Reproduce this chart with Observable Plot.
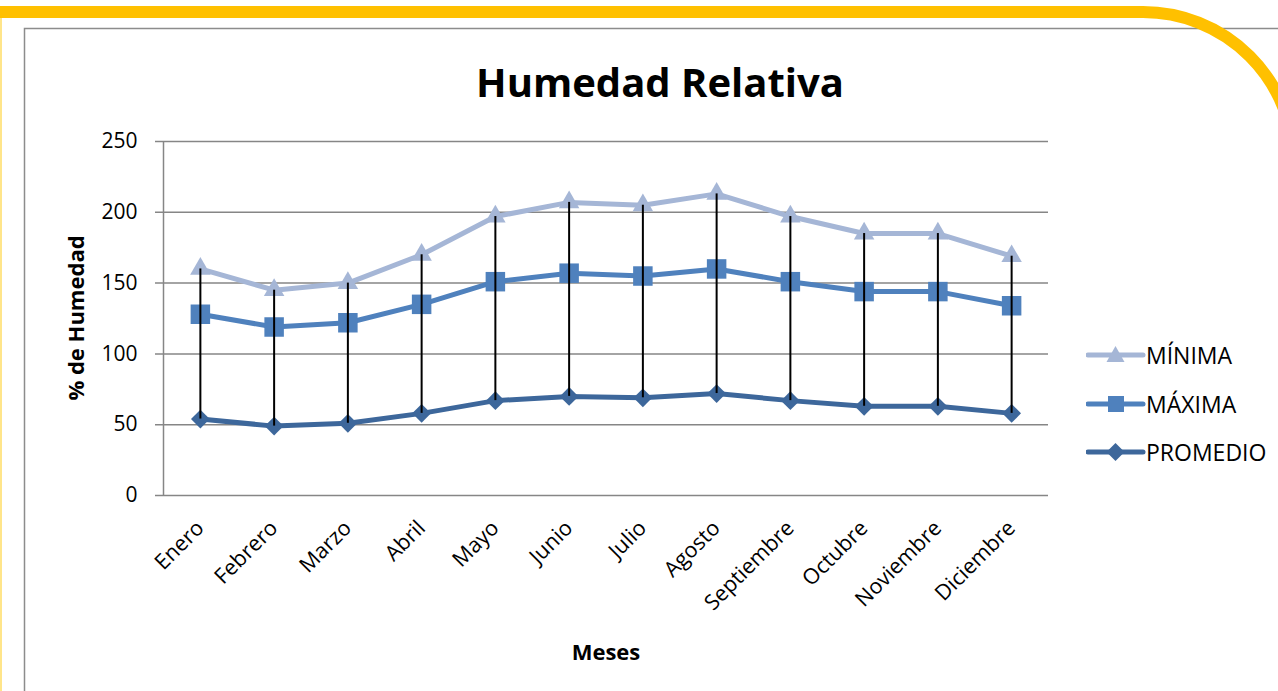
<!DOCTYPE html>
<html>
<head>
<meta charset="utf-8">
<script src="https://cdn.jsdelivr.net/npm/d3@7"></script>
<script src="https://cdn.jsdelivr.net/npm/@observablehq/plot@0.6"></script>
<style>
  html, body { margin: 0; padding: 0; background: #fff; overflow: hidden; }
  body { width: 1278px; height: 691px; position: relative; font-family: "Open Sans", Lato, sans-serif; }
  #decor { position: absolute; left: 0; top: 0; }
  #title { position: absolute; left: 0; top: 0; width: 1278px; height: 120px; }
  #title span { position: absolute; left: 660px; top: 81px; transform: translate(-50%, -50%); font-weight: bold; font-size: 40px; color: #000; white-space: nowrap; }
  #chart { position: absolute; left: 0; top: 120px; }
  .lab { position: absolute; font-weight: bold; font-size: 22px; color: #000; white-space: nowrap; }
  #legend { position: absolute; left: 1086px; top: 343px; }
  .leg { position: absolute; left: 0; display: flex; align-items: center; font-size: 23px; color: #000; white-space: nowrap; }
</style>
</head>
<body>
<svg id="decor" width="1278" height="691"></svg>
<div id="title"><span>Humedad Relativa</span></div>
<div id="chart"></div>
<div class="lab" id="ylab" style="left:75px; top:318px; transform: translate(-50%,-50%) rotate(-90deg);">% de Humedad</div>
<div class="lab" id="xlab" style="left:606px; top:651px; transform: translate(-50%,-50%);">Meses</div>
<div id="legend"></div>
<script>
const meses = ["Enero","Febrero","Marzo","Abril","Mayo","Junio","Julio","Agosto","Septiembre","Octubre","Noviembre","Diciembre"];
const minima   = [160, 145, 150, 170, 197, 207, 205, 213, 197, 185, 185, 169];
const maxima   = [128, 119, 122, 135, 151, 157, 155, 160, 151, 144, 144, 134];
const promedio = [ 54,  49,  51,  58,  67,  70,  69,  72,  67,  63,  63,  58];
const yTicks = [0, 50, 100, 150, 200, 250];
const seriesNames = ["MÍNIMA", "MÁXIMA", "PROMEDIO"];
const seriesColors = {"MÍNIMA": "#A5B6D6", "MÁXIMA": "#4F81BD", "PROMEDIO": "#3D679B"};

// decor frame
const decor = d3.select("#decor");
decor.append("rect").attr("x", 24.5).attr("y", 28.5).attr("width", 1400).attr("height", 800)
  .attr("fill", "none").attr("stroke", "#8c8c8c").attr("stroke-width", 1.5);
decor.append("path").attr("d", "M0,12 L1143,12 A151,151 0 0 1 1294,163")
  .attr("fill", "none").attr("stroke", "#FFC000").attr("stroke-width", 12);
decor.append("line").attr("x1", 1).attr("x2", 1).attr("y1", 18).attr("y2", 691)
  .attr("stroke", "#FFE58A").attr("stroke-width", 2);

const rows = meses.map((m, i) => ({mes: m, minima: minima[i], maxima: maxima[i], promedio: promedio[i]}));
const long = [];
rows.forEach(r => {
  long.push({mes: r.mes, serie: "MÍNIMA", v: r.minima});
  long.push({mes: r.mes, serie: "MÁXIMA", v: r.maxima});
  long.push({mes: r.mes, serie: "PROMEDIO", v: r.promedio});
});

const gridColor = "#868686";
const W = 1278, ML = 163, MR = 230;
const halfStep = (W - ML - MR) / meses.length / 2;
const chart = Plot.plot({
  width: W,
  height: 571,
  marginLeft: ML,
  marginRight: MR,
  marginTop: 21,
  marginBottom: 196,
  style: {fontFamily: "'Open Sans', Lato, sans-serif", background: "transparent", overflow: "visible"},
  x: {type: "point", domain: meses, padding: 0.5, round: false, label: null},
  y: {domain: [0, 250], label: null},
  marks: [
    Plot.ruleY(yTicks, {stroke: gridColor, strokeWidth: 1.5, insetLeft: -8}),
    Plot.ruleX([meses[0]], {x: d => d, dx: -halfStep, y1: 0, y2: 250, stroke: gridColor, strokeWidth: 1.5}),
    Plot.axisY({ticks: yTicks, tickSize: 0, tickPadding: 26, fontSize: 21, label: null}),
    Plot.axisX({tickSize: 0, tickPadding: 29, tickRotate: -45, fontSize: 21.5, label: null}),
    Plot.line(long, {x: "mes", y: "v", z: "serie", stroke: d => seriesColors[d.serie], strokeWidth: 5}),
    Plot.dot(long.filter(d => d.serie === "MÍNIMA"), {x: "mes", y: "v", symbol: "triangle", r: 7.6, fill: seriesColors["MÍNIMA"]}),
    Plot.dot(long.filter(d => d.serie === "MÁXIMA"), {x: "mes", y: "v", symbol: "square", r: 11, fill: seriesColors["MÁXIMA"]}),
    Plot.dot(long.filter(d => d.serie === "PROMEDIO"), {x: "mes", y: "v", symbol: "square", rotate: 45, r: 7.5, fill: seriesColors["PROMEDIO"]}),
    Plot.ruleX(rows, {x: "mes", y1: "promedio", y2: "minima", stroke: "#000", strokeWidth: 2})
  ]
});
document.getElementById("chart").appendChild(chart);

// legend
const legend = d3.select("#legend");
const legSymbols = {"MÍNIMA": "triangle", "MÁXIMA": "square", "PROMEDIO": "diamond"};
seriesNames.forEach((s, i) => {
  const row = legend.append("div").attr("class", "leg").style("top", (i * 48.5 + 12) + "px").style("transform", "translateY(-50%)");
  const sv = row.append("svg").attr("width", 60).attr("height", 24);
  sv.append("line").attr("x1", 2).attr("x2", 57).attr("y1", 12).attr("y2", 12)
    .attr("stroke", seriesColors[s]).attr("stroke-width", 5).attr("stroke-linecap", "round");
  const c = seriesColors[s];
  if (legSymbols[s] === "triangle") sv.append("path").attr("d", "M29.5,3 L38.5,19 L20.5,19 Z").attr("fill", c);
  if (legSymbols[s] === "square") sv.append("rect").attr("x", 22).attr("y", 4).attr("width", 16).attr("height", 16).attr("fill", c);
  if (legSymbols[s] === "diamond") sv.append("path").attr("d", "M29.5,3 L38.5,12 L29.5,21 L20.5,12 Z").attr("fill", c);
  row.append("span").text(s);
});
</script>
</body>
</html>
